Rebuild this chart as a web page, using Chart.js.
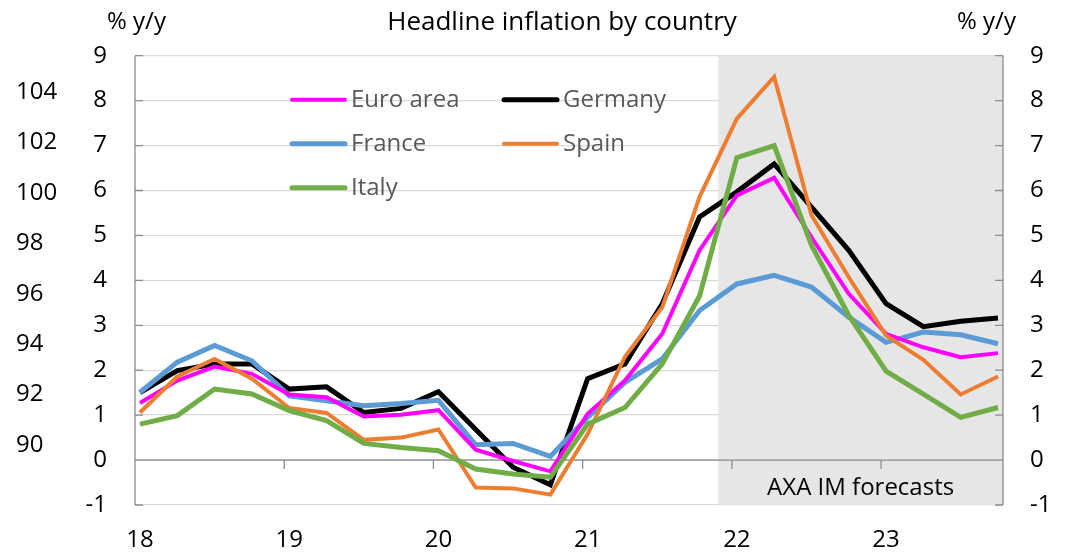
<!DOCTYPE html>
<html>
<head>
<meta charset="utf-8">
<script src="https://cdn.jsdelivr.net/npm/chart.js@4.4.1/dist/chart.umd.min.js"></script>
<style>
  html, body { margin: 0; padding: 0; background: #fff; }
  #chart { display: block; }
</style>
</head>
<body>
<canvas id="chart" width="1066" height="552"></canvas>
<script>
// --- DATA (quarterly, 2018Q1 .. 2023Q4, % y/y) ---
const yearLabels = ['18', '19', '20', '21', '22', '23'];
const indexTicks = [90, 92, 94, 96, 98, 100, 102, 104];

const euroArea = [1.27, 1.77, 2.08, 1.92, 1.46, 1.40, 0.97, 1.01, 1.11, 0.23, -0.02, -0.25, 1.03, 1.77, 2.81, 4.67, 5.89, 6.28, 4.96, 3.70, 2.81, 2.51, 2.29, 2.38];
const germany  = [1.50, 1.99, 2.14, 2.14, 1.58, 1.63, 1.06, 1.15, 1.52, 0.68, -0.16, -0.55, 1.81, 2.14, 3.48, 5.41, 5.97, 6.59, 5.63, 4.67, 3.48, 2.97, 3.09, 3.16];
const france   = [1.51, 2.18, 2.55, 2.21, 1.43, 1.32, 1.21, 1.26, 1.33, 0.34, 0.37, 0.08, 0.95, 1.73, 2.25, 3.33, 3.92, 4.11, 3.85, 3.18, 2.62, 2.85, 2.79, 2.59];
const spain    = [1.06, 1.86, 2.25, 1.81, 1.16, 1.05, 0.45, 0.50, 0.68, -0.61, -0.63, -0.77, 0.58, 2.30, 3.40, 5.86, 7.60, 8.53, 5.45, 4.07, 2.77, 2.23, 1.46, 1.86];
const italy    = [0.80, 0.99, 1.58, 1.47, 1.10, 0.88, 0.37, 0.28, 0.21, -0.20, -0.31, -0.38, 0.80, 1.17, 2.14, 3.65, 6.73, 7.00, 4.78, 3.22, 1.98, 1.47, 0.95, 1.17];

const forecastStart = 15.5; // between 21Q4 and 22Q1

// --- STYLE ---
const FONT = '"Open Sans", "Noto Sans", sans-serif';
const GRID = '#d9d9d9';
const AXIS = '#8c8c8c';

const series = [
  { label: 'Euro area', data: euroArea, color: '#ff00ff', width: 4 },
  { label: 'France',    data: france,   color: '#5b9bd5', width: 5 },
  { label: 'Italy',     data: italy,    color: '#70ad47', width: 5 },
  { label: 'Germany',   data: germany,  color: '#000000', width: 5 },
  { label: 'Spain',     data: spain,    color: '#ed7d31', width: 4 }
];

// --- PLUGIN: shading, axis at zero, texts, legend ---
const decor = {
  id: 'decor',
  beforeDatasetsDraw(chart) {
    const { ctx, chartArea: a, scales } = chart;
    const x = scales.x, y = scales.y;
    const xs = x.getPixelForValue(forecastStart);
    ctx.save();
    ctx.fillStyle = '#e6e6e6';
    ctx.fillRect(xs, a.top, a.right - xs, a.bottom - a.top);

    ctx.strokeStyle = AXIS;
    ctx.lineWidth = 1.3;
    // zero line (category axis crosses at 0)
    const y0 = y.getPixelForValue(0);
    ctx.beginPath();
    ctx.moveTo(a.left, y0); ctx.lineTo(a.right, y0);
    // year tick marks
    for (let k = 0; k < yearLabels.length; k++) {
      const px = x.getPixelForValue(x.min + 4 * k);
      ctx.moveTo(px, y0); ctx.lineTo(px, y0 + 9);
    }
    // value axes borders and inner ticks
    ctx.moveTo(a.left, a.top); ctx.lineTo(a.left, a.bottom);
    ctx.moveTo(a.right, a.top); ctx.lineTo(a.right, a.bottom);
    for (let v = -1; v <= 9; v++) {
      const py = y.getPixelForValue(v);
      ctx.moveTo(a.left, py); ctx.lineTo(a.left + 8, py);
      ctx.moveTo(a.right - 8, py); ctx.lineTo(a.right, py);
    }
    ctx.stroke();

    ctx.fillStyle = '#000';
    ctx.font = '24px ' + FONT;
    ctx.textAlign = 'center';
    ctx.textBaseline = 'middle';
    ctx.fillText('AXA IM forecasts', (xs + a.right) / 2, a.bottom - 17);
    ctx.restore();
  },
  afterDraw(chart) {
    const { ctx, chartArea: a } = chart;
    ctx.save();
    ctx.fillStyle = '#000';
    ctx.textBaseline = 'middle';
    ctx.font = '26px ' + FONT;
    ctx.textAlign = 'center';
    ctx.fillText('Headline inflation by country', 562, 23);
    ctx.font = '24px ' + FONT;
    ctx.textAlign = 'left';
    ctx.fillText('% y/y', 107, 22);
    ctx.fillText('% y/y', 957, 22);

    // legend: two columns, filled row by row
    const order = [series[0], series[3], series[1], series[4], series[2]];
    ctx.lineCap = 'round';
    ctx.font = '24px ' + FONT;
    ctx.fillStyle = '#595959';
    order.forEach((s, i) => {
      const col = i % 2, row = Math.floor(i / 2);
      const lx = a.left + 157 + col * 212;
      const ly = a.top + 44 + row * 44;
      ctx.strokeStyle = s.color;
      ctx.lineWidth = s.width;
      ctx.beginPath();
      ctx.moveTo(lx, ly); ctx.lineTo(lx + 53, ly);
      ctx.stroke();
      ctx.fillText(s.label, lx + 59, ly);
    });
    ctx.restore();
  }
};

const tickFont = { family: FONT, size: 24 };

new Chart(document.getElementById('chart'), {
  type: 'line',
  data: {
    // draw order: Italy, Spain, Euro area, France, Germany
    datasets: [series[2], series[4], series[0], series[1], series[3]].map(s => ({
      label: s.label,
      data: s.data.map((v, i) => ({ x: i, y: v })),
      borderColor: s.color,
      borderWidth: s.width,
      pointRadius: 0,
      tension: 0,
      fill: false
    }))
  },
  options: {
    responsive: false,
    animation: false,
    layout: { padding: { left: 16, right: 0, top: 55.7, bottom: 0 } },
    plugins: { legend: { display: false }, tooltip: { enabled: false } },
    scales: {
      x: {
        type: 'linear',
        min: -0.134,
        max: 23.134,
        grid: { display: false },
        border: { display: false },
        afterBuildTicks: s => { s.ticks = yearLabels.map((_, i) => ({ value: i * 4 })); },
        ticks: {
          callback: v => yearLabels[Math.round(v / 4)],
          font: tickFont, color: '#000', padding: 13,
          maxRotation: 0, autoSkip: false
        },
        afterFit: s => { s.height = 47; }
      },
      y: {
        position: 'left',
        weight: 0,
        min: -1, max: 9,
        ticks: { stepSize: 1, font: tickFont, color: '#000', padding: 28 },
        grid: { color: GRID, lineWidth: 1.3, drawTicks: false },
        border: { display: false },
        afterFit: s => { s.width = 50; }
      },
      yIndex: {
        position: 'left',
        weight: 1,
        min: 87.62, max: 105.44,
        afterBuildTicks: s => { s.ticks = indexTicks.map(v => ({ value: v })); },
        ticks: { font: tickFont, color: '#000', crossAlign: 'far', padding: 0 },
        grid: { display: false, drawOnChartArea: false },
        border: { display: false },
        afterFit: s => { s.width = 69; }
      },
      y2: {
        position: 'right',
        min: -1, max: 9,
        ticks: { stepSize: 1, font: tickFont, color: '#000', padding: 27 },
        grid: { drawOnChartArea: false, drawTicks: false },
        border: { display: false },
        afterFit: s => { s.width = 63; }
      }
    }
  },
  plugins: [decor]
});
</script>
</body>
</html>
